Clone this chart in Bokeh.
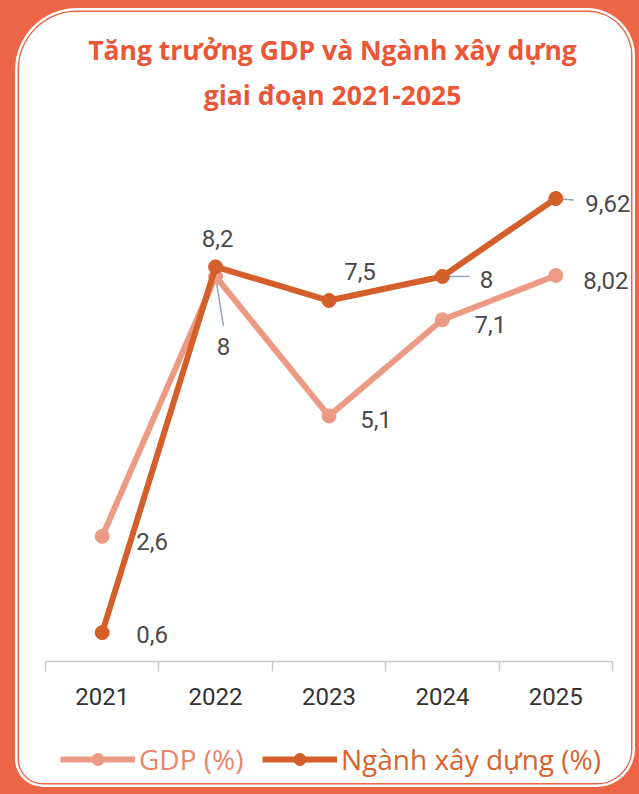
from bokeh.plotting import figure
from bokeh.models import (Range1d, FixedTicker, Label, Legend, LegendItem, Spacer,
                          ColumnDataSource, LinearAxis)
from bokeh.layouts import row, column
from bokeh.core.properties import value
from bokeh.embed import file_html
from bokeh.resources import INLINE

# ---- data ----
years = ["2021", "2022", "2023", "2024", "2025"]
gdp = [2.6, 8.0, 5.1, 7.1, 8.02]
xay_dung = [0.6, 8.2, 7.5, 8.0, 9.62]
gdp_labels = ["2,6", "8", "5,1", "7,1", "8,02"]
xd_labels = ["0,6", "8,2", "7,5", "8", "9,62"]
title_lines = ["Tăng trưởng GDP và Ngành xây dựng", "giai đoạn 2021-2025"]
legend_labels = ["GDP (%)", "Ngành xây dựng (%)"]

# ---- styles ----
BG = "#EC6546"
TITLE_C = "#EB5636"
GDP_C = "#EC9A84"
XD_C = "#D45F2A"
GDP_TXT = "#E8866C"
XD_TXT = "#D9632F"
LBL_C = "#4A4A4A"
LEAD_C = "#8FA6BA"
NUM_FONT = "Roboto"

W = 612
CH = 720          # chart figure height
LH = 51           # legend strip height
LEFT = 26
BOTTOM = 71
CAT_W = 113.4     # px per category
PX_PER_UNIT = 48.13

frame_w = W - LEFT
frame_h = CH - BOTTOM
p = figure(width=W, height=CH, output_backend="svg", toolbar_location=None, title=None,
           x_range=Range1d(0, frame_w / CAT_W), y_range=Range1d(0, frame_h / PX_PER_UNIT),
           min_border_left=LEFT, min_border_right=0, min_border_top=0,
           min_border_bottom=BOTTOM, x_axis_location=None, y_axis_location=None)
p.background_fill_color = "white"
p.border_fill_color = "white"
p.outline_line_color = None
p.grid.visible = False

xs = [i + 0.5 for i in range(len(years))]

ax = LinearAxis(ticker=FixedTicker(ticks=xs, minor_ticks=list(range(len(years) + 1))),
                major_label_overrides={x: y for x, y in zip(xs, years)},
                bounds=(0, len(years)))
ax.axis_line_color = "#C9C9C9"
ax.axis_line_width = 1.5
ax.major_tick_line_color = None
ax.major_tick_out = 0
ax.major_tick_in = 0
ax.minor_tick_line_color = "#C9C9C9"
ax.minor_tick_line_width = 1.5
ax.minor_tick_out = 10
ax.minor_tick_in = 0
ax.major_label_standoff = 16
ax.major_label_text_font = NUM_FONT
ax.major_label_text_font_size = "24px"
ax.major_label_text_color = "#333333"
p.add_layout(ax, "below")

src = ColumnDataSource(dict(x=xs, gdp=gdp, xd=xay_dung, gl=gdp_labels, xl=xd_labels))

# leader lines (screen-length rays from the points)
p.ray(x=[xs[1]], y=[gdp[1]], length=50, length_units="screen",
      angle=[-81], angle_units="deg", line_color=LEAD_C, line_width=1.5)
p.ray(x=[xs[3], xs[4]], y=[xay_dung[3], xay_dung[4]], length=[27, 18], length_units="screen",
      angle=[0, -5], angle_units="deg", line_color=LEAD_C, line_width=1.5)

l1 = p.line("x", "gdp", source=src, line_color=GDP_C, line_width=6)
s1 = p.scatter("x", "gdp", source=src, size=14, fill_color=GDP_C, line_color=GDP_C)
l2 = p.line("x", "xd", source=src, line_color=XD_C, line_width=6)
s2 = p.scatter("x", "xd", source=src, size=14, fill_color=XD_C, line_color=XD_C)

# data labels (pixel offsets from each point)
src.data["gdx"] = [50, 8, 47, 48, 50]
src.data["gdy"] = [5, 70, 3, 5, 5]
src.data["xdx"] = [50, 2, 31, 44, 52]
src.data["xdy"] = [2, -28, -29, 3, 5]
p.text("x", "gdp", text="gl", source=src, x_offset="gdx", y_offset="gdy",
       text_align="center", text_baseline="middle", text_color=LBL_C,
       text_font=value(NUM_FONT), text_font_size="24px")
p.text("x", "xd", text="xl", source=src, x_offset="xdx", y_offset="xdy",
       text_align="center", text_baseline="middle", text_color=LBL_C,
       text_font=value(NUM_FONT), text_font_size="24px")

# title (screen units)
for t, yy in zip(title_lines, [frame_h - 37, frame_h - 82]):
    p.add_layout(Label(x=313 - LEFT, y=yy, x_units="screen", y_units="screen", text=t,
                       text_align="center", text_baseline="middle",
                       text_font="Open Sans", text_font_style="bold",
                       text_font_size="26.5px", text_color=TITLE_C))

# legend strip (its renderers reuse the series data, drawn outside its ranges)
lf = figure(width=W, height=LH, output_backend="svg", toolbar_location=None, title=None,
            x_range=Range1d(100, 101), y_range=Range1d(100, 101), min_border=0,
            x_axis_location=None, y_axis_location=None)
lf.background_fill_color = "white"
lf.border_fill_color = "white"
lf.outline_line_color = None
lf.grid.visible = False
ll1 = lf.line("x", "gdp", source=src, line_color=GDP_C, line_width=6)
ls1 = lf.scatter("x", "gdp", source=src, size=13, fill_color=GDP_C, line_color=GDP_C)
ll2 = lf.line("x", "xd", source=src, line_color=XD_C, line_width=6)
ls2 = lf.scatter("x", "xd", source=src, size=13, fill_color=XD_C, line_color=XD_C)

for lbl, rs, col, loc in [(legend_labels[0], [ll1, ls1], GDP_TXT, (15, 5)),
                          (legend_labels[1], [ll2, ls2], XD_TXT, (217, 5))]:
    lg = Legend(items=[LegendItem(label=lbl, renderers=rs)], location=loc,
                orientation="horizontal", padding=0, margin=0, spacing=0,
                glyph_width=75, glyph_height=30, label_height=30, label_standoff=4,
                label_text_font="Open Sans", label_text_font_size="28px",
                label_text_color=col, border_line_color=None,
                background_fill_alpha=0)
    lf.add_layout(lg, "center")

card = column(p, lf, spacing=0)
card.styles = {"border-radius": "58px 44px 34px 24px", "overflow": "hidden",
               "background": "white",
               "box-shadow": f"0 0 0 1.5px {BG}, 0 0 0 4px white"}

layout = column(Spacer(height=12), row(Spacer(width=19), card))
html = file_html(layout, INLINE)
html = html.replace("<head>", f"<head><style>html,body{{background:{BG};}}</style>", 1)
open("out.html", "w").write(html)
